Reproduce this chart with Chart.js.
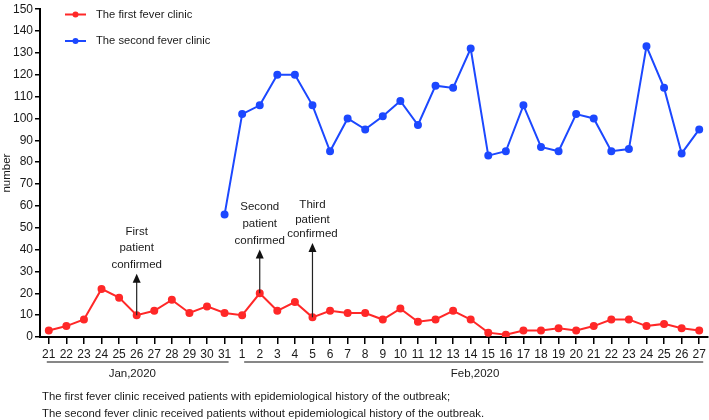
<!DOCTYPE html>
<html>
<head>
<meta charset="utf-8">
<script src="https://cdn.jsdelivr.net/npm/chart.js@4.4.1/dist/chart.umd.min.js"></script>
<style>
  body { margin: 0; background: #fff; }
  canvas { display: block; }
</style>
</head>
<body>
<canvas id="fever-chart" width="709" height="420"></canvas>
<script>
const days = ["21", "22", "23", "24", "25", "26", "27", "28", "29", "30", "31",
  "1", "2", "3", "4", "5", "6", "7", "8", "9", "10", "11", "12", "13", "14",
  "15", "16", "17", "18", "19", "20", "21", "22", "23", "24", "25", "26", "27"];

const firstClinic = [3, 5, 8, 22, 18, 10, 12, 17, 11, 14, 11,
  10, 20, 12, 16, 9, 12, 11, 11, 8, 13, 7, 8, 12, 8,
  2, 1, 3, 3, 4, 3, 5, 8, 8, 5, 6, 4, 3];

const secondClinic = [null, null, null, null, null, null, null, null, null, null, 56,
  102, 106, 120, 120, 106, 85, 100, 95, 101, 108, 97, 115, 114, 132,
  83, 85, 106, 87, 85, 102, 100, 85, 86, 133, 114, 84, 95];

const seriesNames = ["The first fever clinic", "The second fever clinic"];
const seriesColors = ["rgb(255,40,40)", "rgb(28,72,255)"];

// arrows: category index, arrow tip value, text lines, line gap
const eventIndex = [5, 12, 15];
const eventTip = [29, 40, 43];
const eventGap = [16.5, 17, 14.5];
const eventText = [
  ["First", "patient", "confirmed"],
  ["Second", "patient", "confirmed"],
  ["Third", "patient", "confirmed"]
];

const months = ["Jan,2020", "Feb,2020"];
const monthStart = [0, 11];
const monthEnd = [10, 37];
const monthLabelAt = [4.75, 24.25];

const notes = [
  "The first fever clinic received patients with epidemiological history of the outbreak;",
  "The second fever clinic received patients without epidemiological history of the outbreak."
];

const FONT = "'Liberation Sans', Arial, Helvetica, sans-serif";
const INK = "#1a1a1a";

const extras = {
  id: "extras",
  afterDraw(chart) {
    const ctx = chart.ctx;
    const x = chart.scales.x;
    const y = chart.scales.y;
    const step = x.getPixelForValue(1) - x.getPixelForValue(0);
    ctx.save();
    ctx.fillStyle = INK;
    ctx.strokeStyle = "#222";

    // event arrows
    ctx.font = "11.5px " + FONT;
    ctx.textAlign = "center";
    ctx.textBaseline = "middle";
    eventIndex.forEach((idx, i) => {
      const px = x.getPixelForValue(idx);
      const yBase = y.getPixelForValue(firstClinic[idx]);
      const yTip = y.getPixelForValue(eventTip[i]);
      ctx.lineWidth = 1.2;
      ctx.beginPath();
      ctx.moveTo(px, yBase);
      ctx.lineTo(px, yTip + 6);
      ctx.stroke();
      ctx.beginPath();
      ctx.moveTo(px, yTip);
      ctx.lineTo(px - 4, yTip + 9);
      ctx.lineTo(px + 4, yTip + 9);
      ctx.closePath();
      ctx.fillStyle = "#111";
      ctx.fill();
      ctx.fillStyle = INK;
      const lines = eventText[i];
      lines.forEach((t, k) => {
        ctx.fillText(t, px, yTip - 9 - (lines.length - 1 - k) * eventGap[i]);
      });
    });

    // month brackets
    const lineY = 362;
    ctx.lineWidth = 1.2;
    ctx.strokeStyle = "#111";
    months.forEach((m, i) => {
      const x0 = x.getPixelForValue(monthStart[i]) + (i === 0 ? -2 : 2);
      const x1 = x.getPixelForValue(monthEnd[i]) + 4;
      ctx.beginPath();
      ctx.moveTo(x0, lineY);
      ctx.lineTo(x1, lineY);
      ctx.stroke();
      ctx.fillText(m, x.getPixelForValue(0) + monthLabelAt[i] * step, 374);
    });

    // notes
    ctx.font = "11.3px " + FONT;
    ctx.textAlign = "left";
    notes.forEach((n, i) => ctx.fillText(n, 42, 397 + i * 17));

    // legend
    ctx.font = "11.2px " + FONT;
    seriesNames.forEach((name, i) => {
      const ly = 14.5 + i * 26.5;
      ctx.strokeStyle = seriesColors[i];
      ctx.fillStyle = seriesColors[i];
      ctx.lineWidth = 2;
      ctx.beginPath();
      ctx.moveTo(65, ly);
      ctx.lineTo(86, ly);
      ctx.stroke();
      ctx.beginPath();
      ctx.arc(75.5, ly, 3, 0, Math.PI * 2);
      ctx.fill();
      ctx.fillStyle = INK;
      ctx.fillText(name, 96, ly);
    });
    ctx.restore();
  }
};

new Chart(document.getElementById("fever-chart"), {
  type: "line",
  data: {
    labels: days,
    datasets: [firstClinic, secondClinic].map((values, i) => ({
      label: seriesNames[i],
      data: values,
      borderColor: seriesColors[i],
      backgroundColor: seriesColors[i],
      borderWidth: 2,
      pointRadius: 3,
      pointHoverRadius: 3,
      tension: 0,
      spanGaps: false
    }))
  },
  options: {
    responsive: false,
    animation: false,
    devicePixelRatio: 1,
    layout: { autoPadding: false, padding: { top: 8, right: 1, left: 0, bottom: 0 } },
    plugins: {
      legend: { display: false },
      tooltip: { enabled: false }
    },
    scales: {
      x: {
        type: "category",
        offset: true,
        grid: {
          offset: false,
          drawOnChartArea: false,
          drawTicks: true,
          tickLength: 7,
          color: "#000",
          lineWidth: 1.5
        },
        border: { color: "#000", width: 2 },
        ticks: {
          color: INK,
          font: { size: 12, family: FONT },
          padding: 3,
          maxRotation: 0,
          autoSkip: false
        },
        afterFit(scale) {
          scale.height = 83;
          scale.paddingLeft = 0;
          scale.paddingRight = 0;
        }
      },
      y: {
        min: 0,
        max: 150,
        grid: {
          drawOnChartArea: false,
          drawTicks: true,
          tickLength: 5,
          color: "#000",
          lineWidth: 1.5
        },
        border: { color: "#000", width: 2 },
        ticks: {
          stepSize: 10,
          color: INK,
          font: { size: 12, family: FONT },
          padding: 2
        },
        title: {
          display: true,
          text: "number",
          color: INK,
          font: { size: 11.5, family: FONT },
          padding: 0
        },
        afterFit(scale) { scale.width = 40; }
      }
    }
  },
  plugins: [extras]
});
</script>
</body>
</html>
